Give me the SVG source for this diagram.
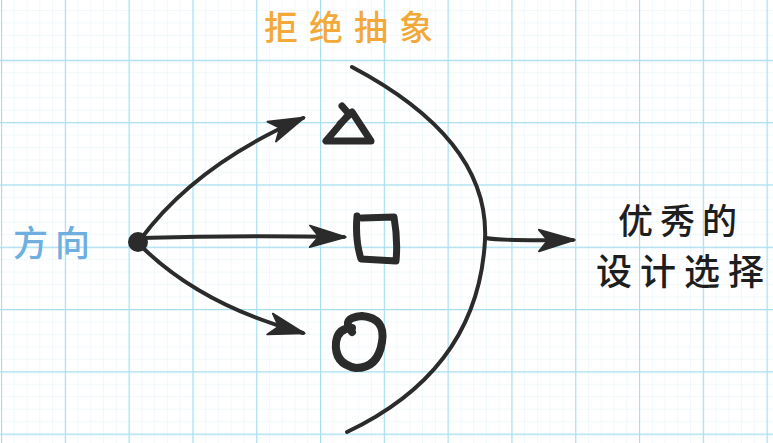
<svg xmlns="http://www.w3.org/2000/svg" width="773" height="443" viewBox="0 0 773 443">
<style>
.ink{fill:none;stroke:#2b2b2b;stroke-linecap:round;stroke-linejoin:round}
.t{font-family:"Noto Sans CJK SC","Noto Sans",sans-serif;font-weight:500}
</style>
<defs>
<pattern id="minor" x="1" y="-2.5" width="12.76" height="12.46" patternUnits="userSpaceOnUse">
<path d="M0,0 V12.46 M0,0 H12.76" stroke="#e3f3f8" stroke-width="1" fill="none"/>
</pattern>
<pattern id="major" x="1" y="-2.5" width="63.8" height="62.3" patternUnits="userSpaceOnUse">
<path d="M0.5,0 V62.3 M0,0.5 H63.8" stroke="#a6def0" stroke-width="1.3" fill="none"/>
</pattern>
<marker id="ah" viewBox="0 0 40 30" refX="38" refY="15" markerWidth="38" markerHeight="27" markerUnits="userSpaceOnUse" orient="auto">
<path d="M0,3 L40,15 L0,27 L10,15 Z" fill="#2b2b2b" stroke="#2b2b2b" stroke-width="2" stroke-linejoin="round"/>
</marker>
</defs>
<rect width="773" height="443" fill="#ffffff"/>
<rect width="773" height="443" fill="url(#minor)"/>
<rect width="773" height="443" fill="url(#major)"/>

<g id="connectors">
<path class="ink" stroke-width="4" d="M140,240 Q195,165 303,118" marker-end="url(#ah)"/>
<path class="ink" stroke-width="4" d="M140,238 Q240,235 344,237" marker-end="url(#ah)"/>
<path class="ink" stroke-width="4" d="M140,245 Q200,305 303,333" marker-end="url(#ah)"/>
<path class="ink" stroke-width="4" d="M486,238 Q500,241 573,240" marker-end="url(#ah)"/>
</g>

<g id="title"><text class="t" y="40" font-size="34" fill="#f2a93a"><tspan x="264">拒</tspan><tspan x="309">绝</tspan><tspan x="354">抽</tspan><tspan x="399">象</tspan></text></g>
<g id="direction">
<circle cx="138" cy="242" r="10" fill="#2b2b2b"/>
<text class="t" y="256" font-size="35" fill="#6eafe0"><tspan x="13">方</tspan><tspan x="55">向</tspan></text>
</g>
<g id="triangle"><path class="ink" stroke-width="7" d="M342,106 L349,114 L326,141 L371,141 L352,112 L340,124"/></g>
<g id="square"><path class="ink" stroke-width="7" d="M362,218 L394,217 Q398,240 396,261 L361,259 Q355,240 357,216"/></g>
<g id="circle"><path class="ink" stroke-width="8" d="M352,332 Q340,318 362,316 Q386,318 382,342 Q378,368 356,368 Q334,364 336,342 Q338,328 352,328"/></g>
<g id="arc"><path class="ink" stroke-width="4" d="M352,67 Q490,140 485,240 Q478,370 347,432"/></g>
<g id="result">
<text class="t" y="234" font-size="35" fill="#1e1e1e"><tspan x="618">优</tspan><tspan x="660">秀</tspan><tspan x="702">的</tspan></text>
<text class="t" y="285" font-size="36" fill="#1e1e1e"><tspan x="596">设</tspan><tspan x="640">计</tspan><tspan x="684">选</tspan><tspan x="728">择</tspan></text>
</g>
</svg>
